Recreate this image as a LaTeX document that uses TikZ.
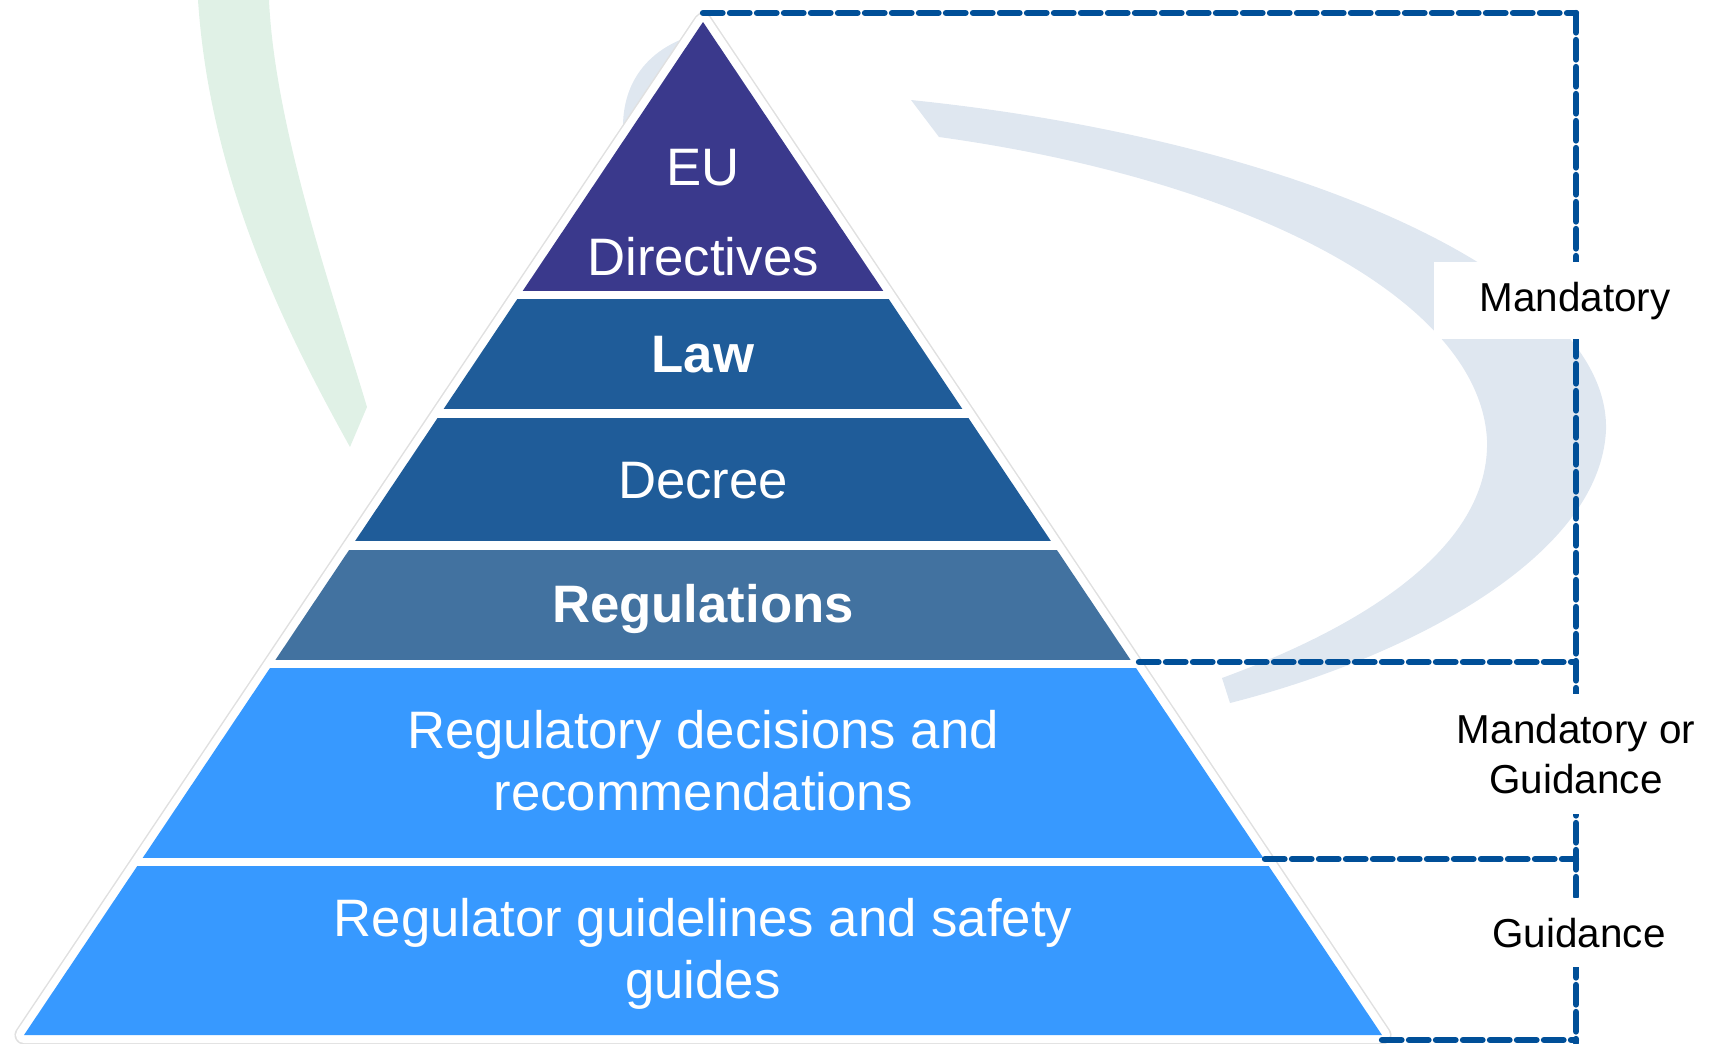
\documentclass[tikz,border=0pt]{standalone}
\usepackage{fontspec}
\setmainfont{Liberation Sans}
\usepackage{tkz-euclide}

\definecolor{euviolet}{RGB}{58,57,140}
\definecolor{lawblue}{RGB}{31,92,153}
\definecolor{regblue}{RGB}{66,114,160}
\definecolor{skyblue}{RGB}{55,153,255}
\definecolor{bracketblue}{RGB}{0,79,152}
\definecolor{swoosh}{RGB}{223,231,240}
\definecolor{mint}{RGB}{224,241,230}

\begin{document}
\begin{tikzpicture}[%
  x=0.1mm, y=-0.1mm,
  bracket/.style = {bracketblue, line width=1.8pt, dash pattern=on 1.95mm off 0.75mm},
  tiertext/.style = {text=white, font=\fontsize{15}{17.6}\selectfont, align=center, inner sep=0pt},
  status/.style = {fill=white, font=\fontsize{11.5}{14.2}\selectfont, align=center,
                   inner xsep=0pt, inner ysep=2mm, minimum width=28.2mm},
]
  \useasboundingbox (0,0) rectangle (1718,1043);

  % logo in the background
  \fill[mint] (198,0) .. controls (210,180) and (285,330) .. (350,447)
    -- (367,407) .. controls (335,300) and (275,130) .. (269,0) -- cycle;
  \fill[swoosh] (911,100) .. controls (1300,140) and (1610,280) .. (1606,430)
    .. controls (1600,560) and (1400,660) .. (1230,703)
    -- (1222,678) .. controls (1380,620) and (1490,540) .. (1487,440)
    .. controls (1480,300) and (1250,180) .. (939,137) -- cycle;
  \fill[swoosh] (623,130) .. controls (622,85) and (645,55) .. (680,40)
    -- (703,40) -- (703,130) -- cycle;

  \tkzDefPoint(703,22){A}
  \tkzDefPoint(24,1035){B}
  \tkzDefPoint(1382,1035){C}

  % white rim with a faint shadow
  \draw[black!12, line width=1.9mm, line join=round] (A) -- (B) -- (C) -- cycle;
  \draw[white, fill=white, line width=1.6mm, line join=round] (A) -- (B) -- (C) -- cycle;

  % the tiers
  \begin{scope}
    \clip (A) -- (B) -- (C) -- cycle;
    \foreach \ya/\yb/\tint in {0/291/euviolet, 299/409/lawblue, 418/541/lawblue,
                               550/660/regblue, 668/858/skyblue, 866/1043/skyblue}
      \fill[\tint] (0,\ya) rectangle (1718,\yb);
  \end{scope}

  \node[tiertext] (eu) at (703,213) {EU\\[8pt]Directives};
  \node[tiertext, anchor=base] (law) at (703,372) {\bfseries Law};
  \node[tiertext, anchor=base] (decree) at (703,498) {Decree};
  \node[tiertext, anchor=base] (regs) at (703,622) {\bfseries Regulations};
  \node[tiertext] (decisions) at (703,761) {Regulatory decisions and\\recommendations};
  \node[tiertext] (guides) at (703,954) {Regulator guidelines and safety\\guides};

  % brackets on the right
  \tkzDefPoint(703,13){T}
  \tkzDefPoint(1576,13){K}
  \tkzDefPoint(1576,1043){E}
  \tkzDefPoint(1139,662){R1}
  \tkzDefPoint(1576,662){S1}
  \tkzDefPoint(1265,859){R2}
  \tkzDefPoint(1576,859){S2}
  \tkzDefPoint(1382,1040){R3}
  \tkzDefPoint(1576,1040){S3}
  \tkzDrawSegments[bracket](T,K K,E R1,S1 R2,S2 R3,S3)

  \node[status, anchor=base] (mand) at (1575,311) {Mandatory};
  \node[status] (mixed) at (1576,754) {Mandatory or\\Guidance};
  \node[status, anchor=base] (guid) at (1579,947) {Guidance};

\end{tikzpicture}
\end{document}
